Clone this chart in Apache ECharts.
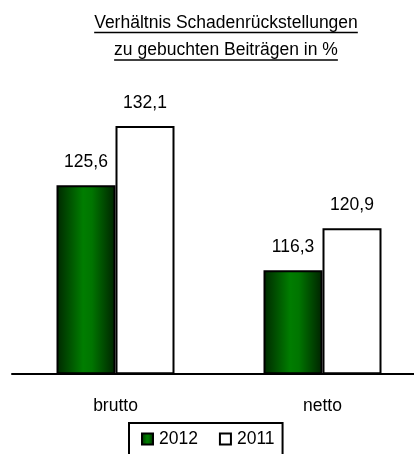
<!DOCTYPE html>
<html>
<head>
<meta charset="utf-8">
<script src="https://cdn.jsdelivr.net/npm/echarts@6/dist/echarts.min.js"></script>
<style>
html,body{margin:0;padding:0;background:#fff;overflow:hidden;}
#chart{width:414px;height:454px;}
</style>
</head>
<body>
<div id="chart"></div>
<script>
const titleLines = ['Verhältnis Schadenrückstellungen', 'zu gebuchten Beiträgen in %'];
const categories = ['brutto', 'netto'];
const seriesNames = ['2012', '2011'];
const values2012 = [125.6, 116.3];
const values2011 = [132.1, 120.9];
const axisMin = 105;
const axisMax = 140;

const FONT = '"Liberation Sans", Arial, sans-serif';
const FS = 17.5;

function measure(t) {
  const c = document.createElement('canvas').getContext('2d');
  c.font = FS + 'px ' + FONT;
  return c.measureText(t).width;
}

const titleCx = 226;
const lineY = [32.5, 60];
const underlines = titleLines.map((t, i) => {
  const w = measure(t);
  return {
    type: 'line',
    shape: { x1: titleCx - w / 2, y1: lineY[i], x2: titleCx + w / 2, y2: lineY[i] },
    style: { stroke: '#000', lineWidth: 1.5 },
    silent: true
  };
});

const green = {
  type: 'linear', x: 0, y: 0, x2: 1, y2: 0,
  colorStops: [
    { offset: 0, color: '#002800' },
    { offset: 0.45, color: '#007d00' },
    { offset: 0.6, color: '#007500' },
    { offset: 1, color: '#002200' }
  ]
};

const labelCfg = {
  show: true,
  position: 'top',
  distance: 14,
  color: '#000',
  fontSize: FS,
  fontFamily: FONT,
  formatter: p => String(p.value).replace('.', ',')
};

const chart = echarts.init(document.getElementById('chart'), null, { renderer: 'canvas' });
chart.setOption({
  backgroundColor: '#fff',
  animation: false,
  title: {
    text: titleLines.join('\n'),
    left: titleCx,
    textAlign: 'center',
    top: 9.5,
    padding: 0,
    textStyle: { fontSize: FS, fontWeight: 'normal', fontFamily: FONT, color: '#000', lineHeight: 27 }
  },
  graphic: underlines,
  legend: {
    data: seriesNames,
    left: 129,
    top: 423,
    orient: 'horizontal',
    padding: [7, 8, 8, 12],
    itemGap: 21,
    itemWidth: 11,
    itemHeight: 11,
    borderColor: '#000',
    borderWidth: 2,
    icon: 'rect',
    textStyle: { fontSize: FS, fontFamily: FONT, color: '#000', padding: [0, 0, 0, 1] }
  },
  grid: { left: 12, right: -12, top: 54, bottom: 80.7, containLabel: false, outerBoundsMode: 'none' },
  xAxis: {
    type: 'category',
    data: categories,
    axisLine: { lineStyle: { color: '#000', width: 2 } },
    axisTick: { show: false },
    axisLabel: { margin: 24, fontSize: FS, fontFamily: FONT, color: '#000' }
  },
  yAxis: {
    type: 'value',
    min: axisMin,
    max: axisMax,
    show: false,
    splitLine: { show: false }
  },
  series: [
    {
      name: seriesNames[0],
      type: 'bar',
      data: values2012,
      barWidth: 59,
      barGap: '0%',
      itemStyle: { color: green, borderColor: '#000', borderWidth: 2 },
      label: labelCfg
    },
    {
      name: seriesNames[1],
      type: 'bar',
      data: values2011,
      barWidth: 59,
      barGap: '0%',
      itemStyle: { color: '#fff', borderColor: '#000', borderWidth: 2 },
      label: labelCfg
    }
  ]
});
</script>
</body>
</html>
